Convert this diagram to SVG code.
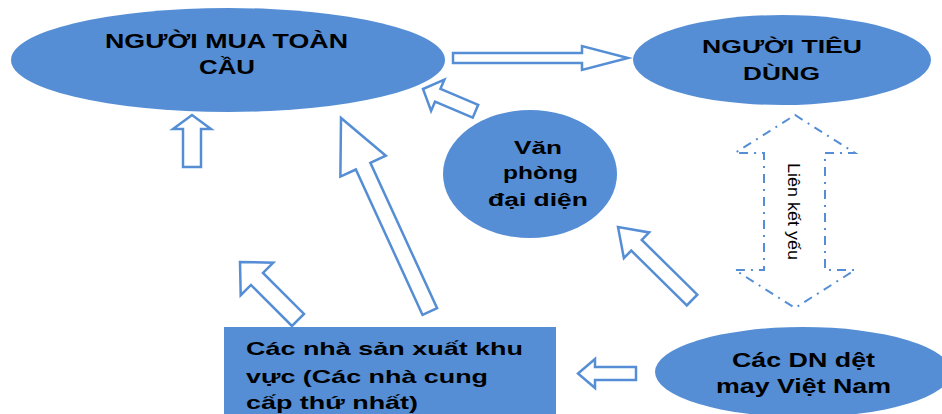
<svg xmlns="http://www.w3.org/2000/svg" width="942" height="414" viewBox="0 0 942 414">
<style>
.node{fill:#558ED5;stroke:none}
.lbl{font-family:"Liberation Sans",Arial,sans-serif;font-weight:bold;fill:#000}
.arr{fill:#fff;stroke:#558ED5;stroke-width:2.5;stroke-linejoin:miter}
.weak{fill:#fff;stroke:#558ED5;stroke-width:2;stroke-dasharray:9 6 2 6}
.rot{font-family:"Liberation Sans",Arial,sans-serif;font-size:16px;fill:#000}
</style>
<rect width="942" height="414" fill="#fff"/>
<g id="connectors">
<polygon class="arr" points="453,53 582,53 582,46 628,58 582,70 582,63 453,63"/>
<polygon class="arr" transform="translate(423,89) rotate(203)" points="-57,-7 -16,-7 -16,-17 0,0 -16,17 -16,7 -57,7"/>
<polygon class="arr" transform="translate(192,115) rotate(-90)" points="-52,-9 -14,-9 -14,-19 0,0 -14,19 -14,9 -52,9"/>
<polygon class="arr" transform="translate(341,118) rotate(245.35)" points="-213,-8 -53,-8 -53,-25 0,0 -53,25 -53,8 -213,8"/>
<polygon class="arr" transform="translate(240,262) rotate(225)" points="-82,-8.5 -24,-8.5 -24,-23 0,0 -24,23 -24,8.5 -82,8.5"/>
<polygon class="arr" transform="translate(618,227) rotate(224.6)" points="-104,-7.5 -26,-7.5 -26,-18 0,0 -26,18 -26,7.5 -104,7.5"/>
<polygon class="arr" points="636,367 595,367 595,359 578,373.5 595,388 595,380 636,380"/>
<polygon class="weak" points="795,115 855,153 825,153 825,270 855,270 795,308 735,270 764,270 764,153 735,153"/>
<text class="rot" transform="translate(788,163) rotate(90)" textLength="97" lengthAdjust="spacingAndGlyphs">Liên kết yếu</text>
</g>
<g id="nguoi-mua">
<ellipse class="node" cx="228" cy="60" rx="217" ry="52"/>
<text class="lbl" font-size="21" x="105" y="48" textLength="243" lengthAdjust="spacingAndGlyphs">NGƯỜI MUA TOÀN</text>
<text class="lbl" font-size="21" x="199" y="74" textLength="56" lengthAdjust="spacingAndGlyphs">CẦU</text>
</g>
<g id="nguoi-tieu-dung">
<ellipse class="node" cx="782" cy="60" rx="149" ry="45"/>
<text class="lbl" font-size="19" x="702" y="53" textLength="160" lengthAdjust="spacingAndGlyphs">NGƯỜI TIÊU</text>
<text class="lbl" font-size="19" x="743" y="80" textLength="77" lengthAdjust="spacingAndGlyphs">DÙNG</text>
</g>
<g id="van-phong">
<ellipse class="node" cx="530" cy="174" rx="87" ry="64"/>
<text class="lbl" font-size="18" x="514" y="154" textLength="48" lengthAdjust="spacingAndGlyphs">Văn</text>
<text class="lbl" font-size="18" x="503" y="179" textLength="75" lengthAdjust="spacingAndGlyphs">phòng</text>
<text class="lbl" font-size="18" x="488" y="206" textLength="100" lengthAdjust="spacingAndGlyphs">đại diện</text>
</g>
<g id="nha-san-xuat">
<rect class="node" x="224" y="327" width="332" height="100"/>
<text class="lbl" font-size="19" x="246" y="355" textLength="277" lengthAdjust="spacingAndGlyphs">Các nhà sản xuất khu</text>
<text class="lbl" font-size="19" x="246" y="383" textLength="242" lengthAdjust="spacingAndGlyphs">vực (Các nhà cung</text>
<text class="lbl" font-size="19" x="246" y="409" textLength="172" lengthAdjust="spacingAndGlyphs">cấp thứ nhất)</text>
</g>
<g id="dn-det-may">
<ellipse class="node" cx="803" cy="372" rx="148" ry="45"/>
<text class="lbl" font-size="20" x="732" y="367" textLength="143" lengthAdjust="spacingAndGlyphs">Các DN dệt</text>
<text class="lbl" font-size="20" x="716" y="393" textLength="175" lengthAdjust="spacingAndGlyphs">may Việt Nam</text>
</g>
</svg>
